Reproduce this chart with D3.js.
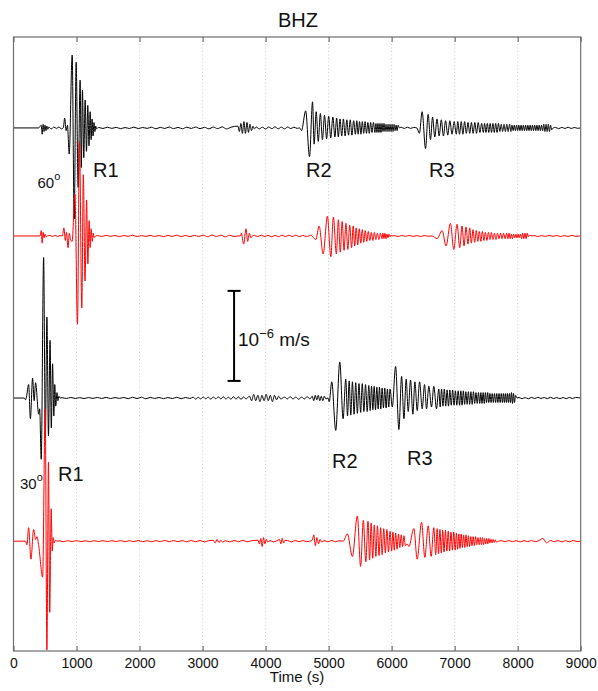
<!DOCTYPE html>
<html>
<head>
<meta charset="utf-8">
<script src="https://cdn.jsdelivr.net/npm/d3@7"></script>
<style>
  body { margin: 0; background: #fff; }
  svg { display: block; font-family: "Liberation Sans", Arial, Helvetica, sans-serif; }
</style>
</head>
<body>
<div id="chart"></div>
<script>
// BHZ seismograms: 60 deg pair (black / red) and 30 deg pair (black / red)
// amplitudes in 1e-8 m/s; time in s.
// points: [t, amp]; trains: [t0, dt, [amps...]] (successive extremes)

const xTicks = [0, 1000, 2000, 3000, 4000, 5000, 6000, 7000, 8000, 9000];
const traceBase = [581, 461, 281, 122];   // trace offsets, 1e-8 m/s
const scaleBar = { t: 3500, from: 300, to: 400 };

// trace 1 : black, 60 deg
const bk60Points = [
  [0,0],[400,0],[425,2],[440,3],[455,-7],[470,4],[485,-4],[500,3],[515,-3],[530,2],[545,-1.5],[560,1],
  [600,-1],[640,1],[680,-0.5],[720,1],[760,-1],[790,0],[812,11],[835,-3],[856,3],[884,-29],
  [931,81],[963,-101],[994,73],[1026,-66],[1057,53],[1076,-44],[1094,42],[1115,-33],[1137,31],
  [1158,-26],[1179,25],[1198,-20],[1216,18],[1232,-13],[1247,10],[1262,-9],[1277,6],[1292,-4],
  [1305,2],[1320,-1],[1335,0],
  [4540,0],[4570,-3],[4636,19],[4697,-32],[4745,29],
  [6125,0],
  [6400,0],[6440,-6],[6484,18],[6538,-23],[6579,15],[6617,-13],[6649,12],[6685,-10],
  [8565,0],[9000,0]
];
const bk60Trains = [
  [1350, 70, [0.5,-0.6,0.8,-0.5,0.6,-0.8,0.4,-0.6,0.9,-0.7,0.5,-0.5,0.8,-0.9,0.6,-0.6,1,-0.8,0.6,-0.9,0.8,-0.6,1,-0.8,0.7,-1,0.9,-0.8,1.2,-1.1,0.8]],
  [3560, 24, [2,-4,5,-6,7,-6,6,-5,4,-3,2,-1]],
  [3850, 50, [1,-1,0.8,-1.2,1,-0.8,1.2,-1,0.9,-1.1,1,-0.7,0.8,-0.5]],
  [4770, 33, [-18,18,-15,16,-13,14,-12,13,-11,12]],
  [5100, 27, [-10,11,-10,10,-9,10,-9,9,-8,9,-8,8]],
  [5425, 22, [-7,8,-7,7,-7,7,-6,7,-6,6,-6,6,-5,6]],
  [5735, 16, [-5,5,-5,5,-5,5,-5,5,-4,5,-4,4,-4,4,-4,4,-4,4,-4,4,-3,3,-3,3]],
  [6150, 50, [0.8,-0.6,0.8,-0.5,0.5]],
  [6720, 34, [10,-9,9,-9,8,-8,8,-7,7,-7]],
  [7050, 27, [7,-7,7,-7,7,-6,6,-6,6,-6,6,-6,6,-5,5,-5]],
  [7475, 22, [5,-5,5,-5,5,-5,5,-5,5,-5,5,-4,4,-4,4,-4,4,-4,4,-4]],
  [7910, 18, [3,-3,3,-3,3,-3,3,-3,3,-3,3,-3,3,-3,3,-3,3,-3,3,-3,3,-3,3,-3,3,-3,3,-3,4,-4,4,-4,4,-4,3,-2]],
  [8600, 50, [0.6,-0.8,0.6,-0.6,0.8,-0.6,0.5,-0.4]]
];

// trace 2 : red, 60 deg
const rd60Points = [
  [0,0],[420,0],[440,6],[455,-8],[470,4],[485,-2],[500,2],[520,-1],[540,0],[580,0.5],[620,-0.5],
  [660,0.6],[700,-0.5],[740,0.4],[775,0],[800,9],[822,-5],[840,4],[866,-13],[885,3],[905,-4],[930,-6],
  [975,46],[1015,-98],[1047,105],[1084,-80],[1108,68],[1135,-50],[1160,40],[1180,-31],[1200,17],
  [1215,-13],[1232,8],[1250,-6],[1265,3],[1280,-2],[1300,0],
  [3560,0],[3600,0],[3615,3],[3652,-9],[3690,8],[3715,-6],[3742,3],[3768,-2],[3790,0],
  [4690,0],[4718,1],[4797,-4],[4850,11],[4913,-20],[4981,22],[5035,-23],[5076,21],[5123,-20],
  [6640,0],[6722,-3],[6801,6],[6864,-11],[6933,14],[6986,-15],[7038,13],[7081,-13],[7117,11],
  [7149,-11],[7180,10],[7212,-9],[7239,9],[7265,-8],[7291,7],[7318,-7],[7344,6],
  [8230,0],[9000,0]
];
const rd60Trains = [
  [1330, 70, [0.4,-0.5,0.6,-0.4,0.5,-0.7,0.5,-0.4,0.8,-0.6,0.4,-0.5,0.7,-0.6,0.5,-0.8,0.6,-0.5,0.9,-0.7,0.6,-0.8,0.7,-0.6,0.9,-0.8,1,-0.7,0.9,-1,0.8,-0.6]],
  [3820, 55, [0.6,-0.7,0.9,-0.6,0.7,-0.9,0.6,-0.8,0.9,-0.7,0.8,-0.6,0.9,-0.8,0.6,-0.5]],
  [5155, 30, [18,-18,16,-16,14,-15,12,-13]],
  [5390, 24, [11,-11,9,-10,8,-8,7,-7,6,-6,5,-5,4,-5,4,-4,3,-4,3,-3]],
  [5862, 16, [3,-3,3,-3,2,-2,2,-1,1,0]],
  [6040, 60, [0.5,-0.6,0.5,-0.4,0.6,-0.5,0.4,-0.6,0.5,-0.3]],
  [7368, 24, [-6,5,-6,5,-5,4,-5,4,-4,4,-4,3,-4,3,-3,3,-3,3,-3,3]],
  [7845, 18, [-3,3,-3,2,-3,2,-2,2,-2,2,-2,2,-3,3,-3,3,-3,3,-1,1]],
  [8260, 60, [0.5,-0.6,0.4,-0.5,0.6,-0.4,0.5,-0.6,0.4,-0.5,0.6,-0.4]]
];

// trace 3 : black, 30 deg
const bk30Points = [
  [0,0],[170,0],[190,-2],[205,1],[240,15],[268,-23],[303,22],[328,-3],[350,17],[400,-18],[415,-12],
  [440,-68],[478,156],[505,-44],[530,90],[555,-42],[580,64],[600,-33],[620,38],[640,-20],[655,15],
  [670,-9],[690,6],[705,-3],[720,2],[740,0],
  [4990,0],[5010,-4],[5050,18],[5113,-36],[5177,40],[5230,-23],[5272,21],
  [6010,-10],[6063,35],[6115,-35],[6158,24],[6195,-23],[6231,21],[6263,-15],[6300,20],[6337,-18],
  [6369,18],[6406,-14],[6443,18],[6485,-12],[6522,15],[6554,-12],[6590,13],[6633,-10],[6669,13],
  [6712,-12],[6748,10],
  [7990,0],[9000,0]
];
const bk30Trains = [
  [770, 70, [0.4,-0.5,0.6,-0.5,0.4,-0.6,0.5,-0.4,0.6,-0.5,0.7,-0.6,0.5,-0.4,0.6,-0.7,0.8,-0.6,0.9,-0.8,0.7,-0.5,0.6,-0.7,0.5,-0.6,0.8,-0.7,0.6,-0.5]],
  [2850, 40, [1,-1.2,0.8,-1,1.2,-0.9,1,-1.3,1.1,-0.8,1.2,-1,1.4,-1.1,0.9,-1.3,1.5,-1.2,1.3,-1.5,1.2,-1]],
  [3745, 33, [2,-3,4,-3,3,-4,3,-3,4,-3,3,-4,3,-2,2,-1]],
  [4300, 45, [1,-1,1.5,-1,1,-1.5,1,-1,1.5,-1]],
  [4740, 24, [2,-3,3,-2,3,-3,2,-3,2,-1]],
  [5300, 26, [-20,19,-19,18,-18,17,-17,16,-16,16,-15,15,-15,14]],
  [5660, 21, [-14,13,-13,13,-13,12,-12,12,-12,11,-11,11,-11,10,-10,10]],
  [6770, 22, [-10,10,-9,10,-9,9,-9,9,-8,9,-8,8,-8,8,-8]],
  [7098, 20, [8,-8,8,-7,7,-7,7,-7,7,-7,7,-6,6,-6,6,-6]],
  [7416, 18, [6,-6,6,-6,6,-5,6,-5,5,-5,5,-5,5,-5,5,-5,5,-5,5,-5]],
  [7774, 16, [5,-5,5,-5,5,-5,5,-5,6,-6,5,-5,3]],
  [8020, 50, [0.6,-0.7,0.5,-0.8,0.7,-0.6,0.8,-0.5,0.6,-0.7,0.8,-0.6,0.5,-0.7,0.6,-0.8,0.7,-0.5,0.6]]
];

// trace 4 : red, 30 deg
const rd30Points = [
  [0,0],[190,0],[213,-4],[240,15],[277,-20],[319,13],[350,2],[372,5],[400,-5],[462,-40],
  [503,147],[530,-121],[555,88],[575,-79],[598,36],[615,-11],[630,4],[645,-2],[665,1],[690,0],
  [4700,0],
  [5230,0],[5298,8],[5377,-17],[5456,28],[5508,-28],[5551,23],[5590,-23],
  [6245,-3],[6274,-6],[6353,14],[6405,-20],[6475,21],[6527,-18],[6580,17],[6627,-17],[6669,15],
  [7700,0],[9000,0]
];
const rd30Trains = [
  [720, 70, [0.4,-0.5,0.5,-0.4,0.6,-0.5,0.4,-0.6,0.5,-0.4,0.6,-0.5,0.5,-0.4,0.6,-0.6,0.5,-0.4,0.7,-0.6,0.5,-0.7,0.6,-0.5,0.8,-0.6,0.7,-0.5,0.6,-0.7,0.8,-0.6,0.7,-0.8,0.6]],
  [3170, 30, [1,-2,2,-1.5,1,-1]],
  [3360, 70, [0.6,-0.8,0.7,-0.6,0.9,-0.7,0.5]],
  [3880, 22, [1,-3,3,-6,4,-3,2,-1]],
  [4070, 55, [0.6,-0.8,0.5]],
  [4220, 22, [2,-3,3,-2,1]],
  [4350, 60, [0.6,-0.7,0.8,-0.6,0.7,-0.5]],
  [4740, 25, [1,7,-5,4,-3,2,-1]],
  [4930, 60, [0.6,-0.7,0.8,-0.6,0.5]],
  [5625, 25, [22,-21,20,-19,18,-17,17,-16,15,-15,14,-13,13,-12,11,-11]],
  [6020, 22, [10,-10,9,-9,8,-7,7,-6,6,-5]],
  [6700, 22, [-15,14,-14,13,-13,12,-12,12,-11,11,-11,10,-10,10,-10]],
  [7028, 19, [9,-9,8,-8,8,-7,7,-7,7,-6,6,-6,5,-5,5,-5,5,-4,4,-4]],
  [7407, 17, [4,-4,4,-4,3,-3,3,-3,3,-2,2,-2,2,-1.5,1.5,-1]],
  [7740, 60, [0.5,-0.6,0.7,-0.5,0.6,-0.8,0.6,-0.5,0.7,-0.6,0.8,3,-2,0.8,-0.6,0.7,-0.8,0.6,-0.7,0.8,-0.5]]
];

(function(){
  const W = 598, H = 691;
  const margin = {top:37, right:17.3, bottom:40, left:13.5};
  const plotW = W - margin.left - margin.right;
  const plotH = H - margin.top - margin.bottom;

  const svg = d3.select('#chart').append('svg')
    .attr('width', W)
    .attr('height', H);
  svg.append('rect').attr('width', W).attr('height', H).attr('fill', '#fff');

  const g = svg.append('g')
    .attr('transform', `translate(${margin.left},${margin.top})`);

  const x = d3.scaleLinear().domain([0, 9000]).range([0, plotW]);
  const y = d3.scaleLinear().domain([0, 682]).range([plotH, 0]);

  // dotted grid
  g.append('g')
    .selectAll('line')
    .data(xTicks.slice(1, -1))
    .join('line')
      .attr('x1', d => x(d)).attr('x2', d => x(d))
      .attr('y1', 0).attr('y2', plotH)
      .attr('stroke', '#bdbdbd')
      .attr('stroke-width', 0.8)
      .attr('stroke-dasharray', '1,2.5');

  g.append('clipPath').attr('id', 'plotclip')
    .append('rect').attr('width', plotW).attr('height', plotH);

  function buildTrace(points, trains, base){
    const pts = points.slice();
    trains.forEach(([t0, dt, amps]) => {
      amps.forEach((a, i) => pts.push([t0 + i*dt, a]));
    });
    pts.sort((p, q) => p[0] - q[0]);
    return pts.map(([t, a]) => [t, base + a]);
  }

  const traces = [
    {pts: buildTrace(bk60Points, bk60Trains, traceBase[0]), color: '#000'},
    {pts: buildTrace(rd60Points, rd60Trains, traceBase[1]), color: '#ff0000'},
    {pts: buildTrace(bk30Points, bk30Trains, traceBase[2]), color: '#000'},
    {pts: buildTrace(rd30Points, rd30Trains, traceBase[3]), color: '#ff0000'}
  ];

  const line = d3.line()
    .x(d => x(d[0]))
    .y(d => y(d[1]))
    .curve(d3.curveMonotoneX);

  const traceG = g.append('g').attr('clip-path', 'url(#plotclip)');
  traces.forEach(tr => {
    traceG.append('path')
      .datum(tr.pts)
      .attr('fill', 'none')
      .attr('stroke', tr.color)
      .attr('stroke-width', 1)
      .attr('stroke-linejoin', 'round')
      .attr('d', line);
  });

  // axes: ticks inward on bottom and top
  const xAxis = g.append('g')
    .attr('transform', `translate(0,${plotH})`)
    .call(d3.axisBottom(x).tickValues(xTicks).tickFormat(d3.format('d')).tickSizeInner(-5).tickSizeOuter(0).tickPadding(8));
  xAxis.select('.domain').remove();
  xAxis.selectAll('.tick line').attr('stroke', '#555');
  xAxis.selectAll('.tick text')
    .attr('font-size', 14)
    .attr('fill', '#111')
    .attr('font-family', '"Liberation Sans", Arial, sans-serif')
    .attr('y', 17).attr('dy', 0);

  const topAxis = g.append('g')
    .call(d3.axisTop(x).tickValues(xTicks).tickFormat('').tickSizeInner(-5).tickSizeOuter(0));
  topAxis.select('.domain').remove();
  topAxis.selectAll('.tick line').attr('stroke', '#555');

  g.append('rect')
    .attr('width', plotW).attr('height', plotH)
    .attr('fill', 'none')
    .attr('stroke', '#6e6e6e')
    .attr('stroke-width', 1.2);

  // title and axis label
  svg.append('text')
    .attr('x', 298).attr('y', 27)
    .attr('text-anchor', 'middle')
    .attr('font-size', 20)
    .attr('fill', '#111')
    .text('BHZ');

  svg.append('text')
    .attr('x', 297).attr('y', 682)
    .attr('text-anchor', 'middle')
    .attr('font-size', 15)
    .attr('fill', '#111')
    .text('Time (s)');

  // scale bar
  const sb = g.append('g').attr('stroke', '#000').attr('stroke-width', 2);
  sb.append('line')
    .attr('x1', x(scaleBar.t)).attr('x2', x(scaleBar.t))
    .attr('y1', y(scaleBar.from)).attr('y2', y(scaleBar.to));
  [scaleBar.from, scaleBar.to].forEach(v => {
    sb.append('line')
      .attr('x1', x(scaleBar.t) - 6.5).attr('x2', x(scaleBar.t) + 6.5)
      .attr('y1', y(v)).attr('y2', y(v));
  });
  const sbText = svg.append('text')
    .attr('x', 238).attr('y', 346)
    .attr('font-size', 19)
    .attr('fill', '#111');
  sbText.append('tspan').text('10');
  sbText.append('tspan').attr('font-size', 13).attr('dy', -8).text('\u22126');
  sbText.append('tspan').attr('dy', 8).text(' m/s');

  // phase labels
  const labels = [
    {t:'R1', x:93, y:177}, {t:'R2', x:306, y:177}, {t:'R3', x:429, y:177},
    {t:'R1', x:58, y:481}, {t:'R2', x:332, y:468}, {t:'R3', x:407, y:465}
  ];
  labels.forEach(l => {
    svg.append('text')
      .attr('x', l.x).attr('y', l.y)
      .attr('font-size', 20)
      .attr('fill', '#111')
      .text(l.t);
  });

  const dist = [{t:'60', x:37.5, y:188}, {t:'30', x:20, y:489}];
  dist.forEach(d => {
    const tx = svg.append('text')
      .attr('x', d.x).attr('y', d.y)
      .attr('font-size', 15)
      .attr('fill', '#111');
    tx.append('tspan').text(d.t);
    tx.append('tspan').attr('font-size', 11).attr('dy', -8).text('o');
  });
})();
</script>
</body>
</html>
